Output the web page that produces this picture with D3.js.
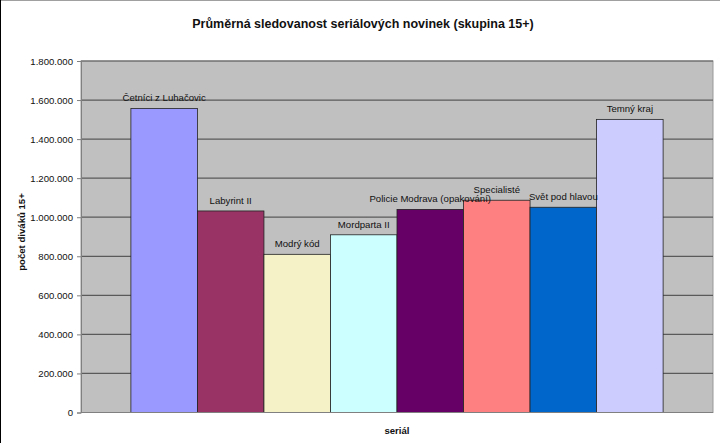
<!DOCTYPE html>
<html><head><meta charset="utf-8">
<script src="https://cdn.jsdelivr.net/npm/d3@7"></script>
<style>body{margin:0;background:#fff}svg{display:block;font-family:Arial,"Liberation Sans",sans-serif}</style>
</head><body><svg id="c" width="720" height="443"></svg>
<script>
const categories = ["Četníci z Luhačovic","Labyrint II","Modrý kód","Mordparta II","Policie Modrava (opakování)","Specialisté","Svět pod hlavou","Temný kraj"];
const values = [1557000,1032000,810000,910000,1040000,1087000,1051000,1501000];
const colors = ["#9999FF","#993366","#F4F2C6","#CCFFFF","#660066","#FF8080","#0066CC","#CCCCFF"];
const yTicks = [0,200000,400000,600000,800000,1000000,1200000,1400000,1600000,1800000];
const title = "Průměrná sledovanost seriálových novinek (skupina 15+)";
const yTitle = "počet diváků 15+";
const xTitle = "seriál";

const svg = d3.select("#c");
const L=81,R=713,T=61,B=412.5;
svg.append("rect").attr("x",0).attr("y",0).attr("width",720).attr("height",443).attr("fill","#fff");
svg.append("line").attr("x1",0).attr("x2",720).attr("y1",0.5).attr("y2",0.5).attr("stroke","#a0a0a0");
svg.append("line").attr("x1",0.5).attr("x2",0.5).attr("y1",0).attr("y2",443).attr("stroke","#000");

const x = d3.scaleBand().domain(categories).range([L,R]).paddingInner(0).paddingOuter(0.75);
const y = d3.scaleLinear().domain([0,1800000]).range([B,T]);
const fmt = v => v===0 ? "0" : d3.format(",")(v).replace(/,/g,".");

svg.append("rect").attr("x",L).attr("y",T).attr("width",R-L).attr("height",B-T).attr("fill","#c0c0c0").attr("stroke","#999").attr("stroke-width",1);

svg.append("g").selectAll("line").data(yTicks.filter(d=>d>0)).join("line")
  .attr("x1",L).attr("x2",R).attr("y1",d=>y(d)).attr("y2",d=>y(d))
  .attr("stroke","#5a5a5a").attr("stroke-width",1.2);

const yAxis = d3.axisLeft(y).tickValues(yTicks).tickFormat(fmt).tickSize(4).tickPadding(4);
const ga = svg.append("g").attr("transform",`translate(${L},0)`).call(yAxis);
ga.select(".domain").attr("stroke","#808080");
ga.selectAll(".tick line").attr("stroke","#808080");
ga.selectAll("text").attr("font-size","9.6px").attr("fill","#111").attr("font-family","Arial,'Liberation Sans',sans-serif");

svg.append("g").selectAll("rect").data(categories).join("rect")
  .attr("x",d=>x(d)).attr("y",(d,i)=>y(values[i])).attr("width",x.bandwidth())
  .attr("height",(d,i)=>B-y(values[i])).attr("fill",(d,i)=>colors[i]).attr("stroke","#222").attr("stroke-width",0.8);

svg.append("line").attr("x1",L).attr("x2",R).attr("y1",B).attr("y2",B).attr("stroke","#808080");

svg.append("g").selectAll("text").data(categories).join("text")
  .attr("x",d=>x(d)+x.bandwidth()/2).attr("y",(d,i)=>y(values[i])-7)
  .attr("text-anchor","middle").attr("font-size","9.6px").attr("fill","#111").text(d=>d);

svg.append("text").attr("x",363).attr("y",28).attr("text-anchor","middle").attr("font-size","12.5px").attr("font-weight","bold").attr("fill","#111").text(title);
svg.append("text").attr("transform","translate(25,232) rotate(-90)").attr("text-anchor","middle").attr("font-size","9.6px").attr("font-weight","bold").attr("fill","#111").text(yTitle);
svg.append("text").attr("x",397).attr("y",434).attr("text-anchor","middle").attr("font-size","9.6px").attr("font-weight","bold").attr("fill","#111").text(xTitle);
</script></body></html>
